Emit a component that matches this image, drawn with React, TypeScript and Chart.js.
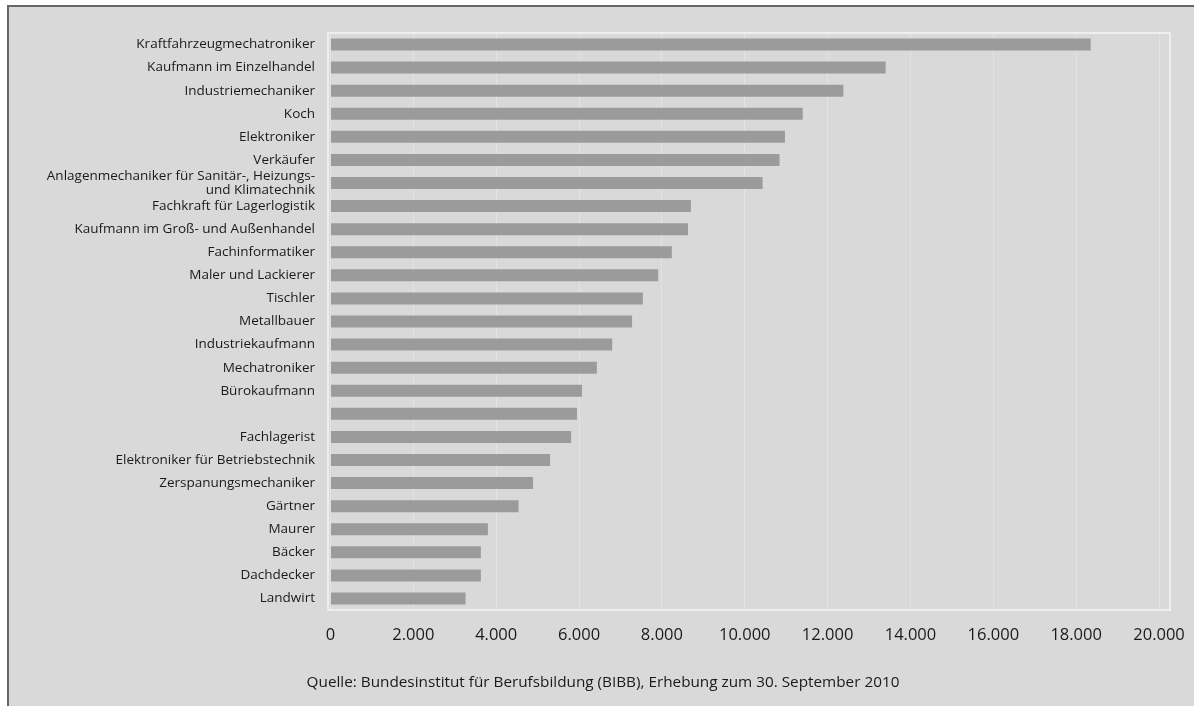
import React, { useEffect, useRef } from "react";
import { Chart, registerables } from "chart.js";

Chart.register(...registerables);

const categories: (string | string[])[] = [
  "Kraftfahrzeugmechatroniker",
  "Kaufmann im Einzelhandel",
  "Industriemechaniker",
  "Koch",
  "Elektroniker",
  "Verkäufer",
  ["Anlagenmechaniker für Sanitär-, Heizungs-", "und Klimatechnik"],
  "Fachkraft für Lagerlogistik",
  "Kaufmann im Groß- und Außenhandel",
  "Fachinformatiker",
  "Maler und Lackierer",
  "Tischler",
  "Metallbauer",
  "Industriekaufmann",
  "Mechatroniker",
  "Bürokaufmann",
  "",
  "Fachlagerist",
  "Elektroniker für Betriebstechnik",
  "Zerspanungsmechaniker",
  "Gärtner",
  "Maurer",
  "Bäcker",
  "Dachdecker",
  "Landwirt",
];

const values: number[] = [
  18350, 13400, 12380, 11400, 10970, 10840, 10430, 8700, 8630, 8240, 7910, 7540,
  7280, 6800, 6430, 6070, 5950, 5810, 5300, 4890, 4540, 3800, 3630, 3630, 3260,
];

const tickValues: number[] = [0, 2000, 4000, 6000, 8000, 10000, 12000, 14000, 16000, 18000, 20000];

const sourceText =
  "Quelle: Bundesinstitut für Berufsbildung (BIBB), Erhebung zum 30. September 2010";

const fmt = (v: number) => String(v).replace(/\B(?=(\d{3})+(?!\d))/g, ".");

export default function App() {
  const ref = useRef<HTMLCanvasElement>(null);

  useEffect(() => {
    if (!ref.current) return;
    const framePlugin = {
      id: "frame",
      beforeDatasetsDraw(chart: any) {
        const { ctx, chartArea: a } = chart;
        ctx.save();
        ctx.strokeStyle = "#eeeeee";
        ctx.lineWidth = 2;
        ctx.strokeRect(a.left, a.top, a.right - a.left, a.bottom - a.top);
        ctx.restore();
      },
    };
    const sourcePlugin = {
      id: "source",
      afterDraw(chart: any) {
        const { ctx } = chart;
        ctx.save();
        ctx.fillStyle = "#1a1a1a";
        ctx.font = "15.3px 'Open Sans'";
        ctx.textAlign = "center";
        ctx.textBaseline = "middle";
        ctx.fillText(sourceText, 594, 676);
        ctx.restore();
      },
    };
    const chart = new Chart(ref.current, {
      type: "bar",
      data: {
        labels: categories,
        datasets: [
          {
            data: values,
            backgroundColor: "#9b9b9b",
            barPercentage: 0.52,
            categoryPercentage: 1,
          },
        ],
      },
      options: {
        indexAxis: "y",
        animation: false,
        responsive: false,
        devicePixelRatio: 1,
        layout: { padding: { top: 26, right: 24, bottom: 32, left: 0 } },
        plugins: {
          legend: { display: false },
          tooltip: { enabled: false },
          title: { display: false },
        },
        scales: {
          x: {
            min: -60,
            max: 20265,
            afterBuildTicks: (s: any) => {
              s.ticks = tickValues.map((v) => ({ value: v }));
            },
            afterFit: (s: any) => {
              s.height = 64;
            },
            ticks: {
              padding: 3,
              color: "#1a1a1a",
              font: { family: "Open Sans", size: 16.5 },
              callback: (v: any) => fmt(Number(v)),
            },
            grid: {
              color: "#e3e3e3",
              lineWidth: 1,
              drawTicks: true,
              tickLength: 12,
              tickColor: "rgba(0,0,0,0)",
            },
            border: { display: false },
          },
          y: {
            afterFit: (s: any) => {
              s.width = 319;
            },
            ticks: {
              padding: 13,
              color: "#1a1a1a",
              autoSkip: false,
              font: { family: "Open Sans", size: 13.5, lineHeight: 1.05 },
            },
            grid: { display: false, drawTicks: false },
            border: { display: false },
          },
        },
      },
      plugins: [framePlugin, sourcePlugin],
    } as any);
    return () => chart.destroy();
  }, []);

  return (
    <div
      style={{
        position: "absolute",
        left: 0,
        top: 0,
        width: 1194,
        height: 706,
        background: "#ffffff",
        overflow: "hidden",
      }}
    >
      <div
        style={{
          position: "absolute",
          left: 7,
          top: 5,
          width: 1187,
          height: 701,
          borderTop: "2px solid #666666",
          borderLeft: "2px solid #666666",
          background: "#d9d9d9",
        }}
      >
        <canvas ref={ref} width={1185} height={699} style={{ display: "block" }} />
      </div>
    </div>
  );
}
